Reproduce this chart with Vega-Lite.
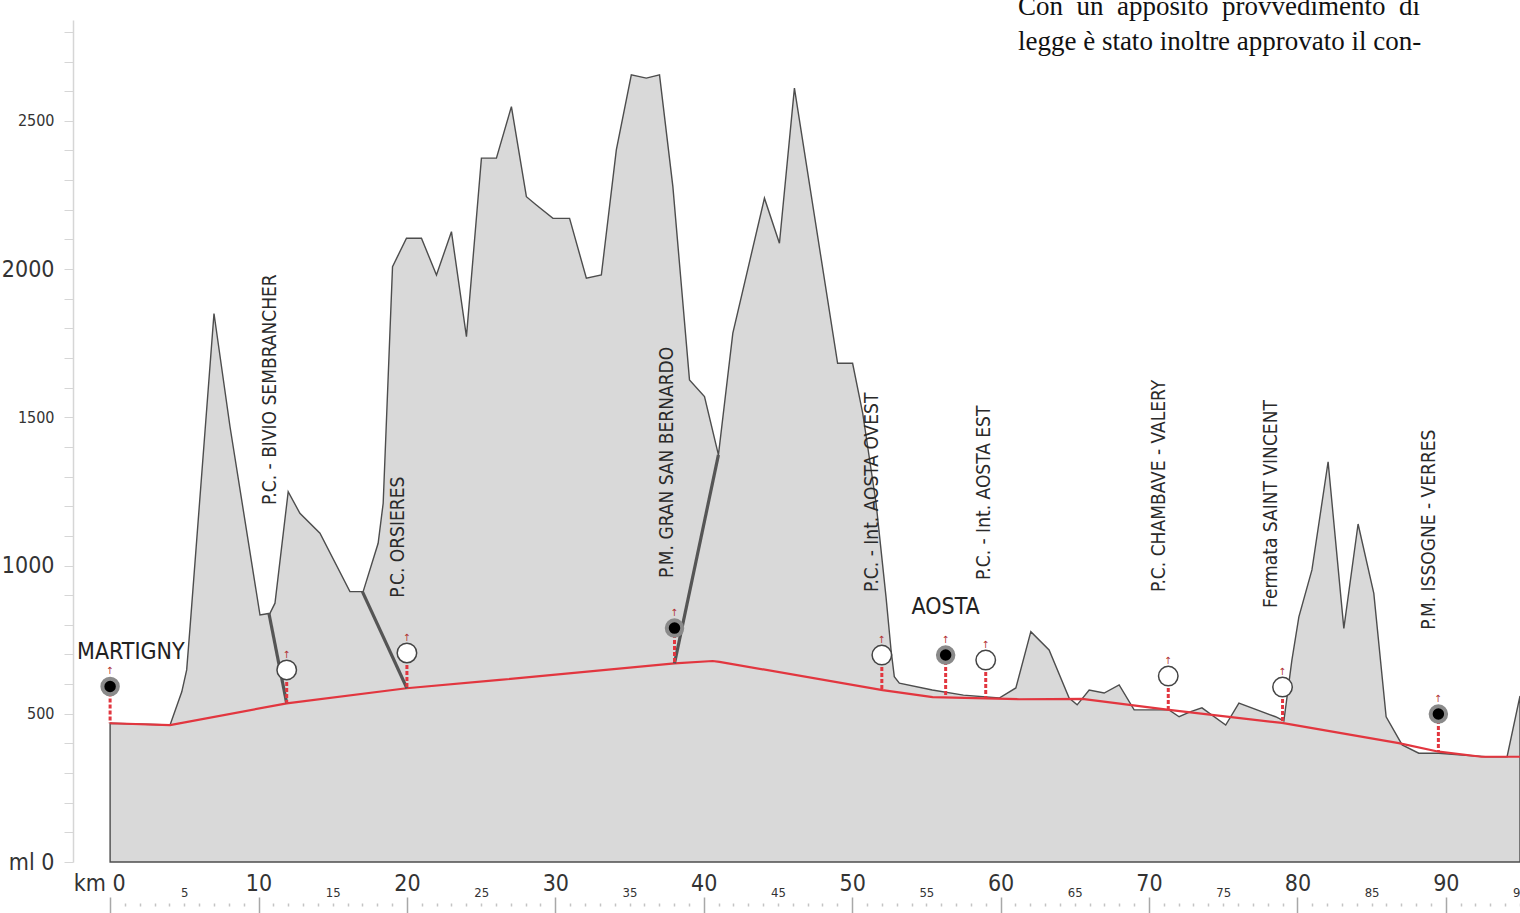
{
  "$schema": "https://vega.github.io/schema/vega-lite/v6.json",
  "width": 1447,
  "height": 842,
  "autosize": {"type": "none"},
  "padding": {"left": 73, "top": 20, "right": 0, "bottom": 51},
  "background": "white",
  "config": {"view": {"stroke": null}, "font": "Liberation Sans Narrow, DejaVu Sans Condensed, Roboto, sans-serif"},
  "datasets": {
    "terrain": [
      {"km": 0, "elev": 468}, {"km": 4.04, "elev": 462}, {"km": 4.83, "elev": 574}, {"km": 5.16, "elev": 648},
      {"km": 5.39, "elev": 794}, {"km": 7.0, "elev": 1850}, {"km": 8.08, "elev": 1468}, {"km": 10.1, "elev": 833},
      {"km": 10.77, "elev": 839}, {"km": 11.11, "elev": 873}, {"km": 12.0, "elev": 1249}, {"km": 12.79, "elev": 1176},
      {"km": 14.14, "elev": 1109}, {"km": 16.16, "elev": 912}, {"km": 17.05, "elev": 912}, {"km": 18.06, "elev": 1075},
      {"km": 18.4, "elev": 1210}, {"km": 19.03, "elev": 2008}, {"km": 19.97, "elev": 2104}, {"km": 20.98, "elev": 2104},
      {"km": 21.99, "elev": 1980}, {"km": 23.0, "elev": 2126}, {"km": 24.01, "elev": 1772}, {"km": 25.02, "elev": 2374},
      {"km": 26.03, "elev": 2374}, {"km": 27.04, "elev": 2548}, {"km": 28.05, "elev": 2244}, {"km": 28.72, "elev": 2216},
      {"km": 29.84, "elev": 2171}, {"km": 30.96, "elev": 2171}, {"km": 32.09, "elev": 1969}, {"km": 33.1, "elev": 1980},
      {"km": 34.11, "elev": 2402}, {"km": 35.12, "elev": 2655}, {"km": 36.13, "elev": 2644}, {"km": 37.02, "elev": 2655},
      {"km": 37.92, "elev": 2278}, {"km": 39.04, "elev": 1626}, {"km": 40.05, "elev": 1570}, {"km": 40.99, "elev": 1373},
      {"km": 41.96, "elev": 1784}, {"km": 44.09, "elev": 2239}, {"km": 45.1, "elev": 2087}, {"km": 46.11, "elev": 2610},
      {"km": 49.02, "elev": 1682}, {"km": 50.03, "elev": 1682}, {"km": 50.71, "elev": 1514}, {"km": 51.61, "elev": 1211},
      {"km": 52.28, "elev": 895}, {"km": 52.62, "elev": 715}, {"km": 52.84, "elev": 625}, {"km": 53.18, "elev": 603},
      {"km": 55.4, "elev": 580}, {"km": 57.5, "elev": 563}, {"km": 59.91, "elev": 553}, {"km": 61.03, "elev": 587},
      {"km": 62.04, "elev": 777}, {"km": 63.27, "elev": 715}, {"km": 64.62, "elev": 553}, {"km": 65.16, "elev": 530},
      {"km": 65.97, "elev": 580}, {"km": 66.98, "elev": 570}, {"km": 67.99, "elev": 597}, {"km": 69.0, "elev": 513},
      {"km": 71.35, "elev": 513}, {"km": 72.03, "elev": 490}, {"km": 72.81, "elev": 507}, {"km": 73.57, "elev": 520},
      {"km": 75.17, "elev": 462}, {"km": 76.06, "elev": 536}, {"km": 78.53, "elev": 490}, {"km": 79.09, "elev": 476},
      {"km": 79.63, "elev": 681}, {"km": 80.1, "elev": 827}, {"km": 80.98, "elev": 985}, {"km": 82.07, "elev": 1350},
      {"km": 83.13, "elev": 788}, {"km": 84.09, "elev": 1140}, {"km": 85.15, "elev": 906}, {"km": 85.98, "elev": 490},
      {"km": 87.06, "elev": 395}, {"km": 88.18, "elev": 367}, {"km": 89.53, "elev": 367}, {"km": 92.67, "elev": 355},
      {"km": 94.13, "elev": 355}, {"km": 95, "elev": 560}
    ],
    "rail": [
      {"km": 0, "elev": 468}, {"km": 4.04, "elev": 462}, {"km": 11.9, "elev": 535}, {"km": 19.97, "elev": 586},
      {"km": 26.25, "elev": 614}, {"km": 38.03, "elev": 670}, {"km": 40.6, "elev": 678}, {"km": 41.06, "elev": 675},
      {"km": 52.05, "elev": 580}, {"km": 55.42, "elev": 556}, {"km": 61.25, "elev": 549}, {"km": 65.5, "elev": 550},
      {"km": 71.35, "elev": 513}, {"km": 78.96, "elev": 469}, {"km": 86.83, "elev": 401}, {"km": 89.53, "elev": 372},
      {"km": 92.4, "elev": 355}, {"km": 95, "elev": 355}
    ],
    "adits": [
      {"id": "a1", "km": 10.7, "elev": 839}, {"id": "a1", "km": 11.9, "elev": 535},
      {"id": "a2", "km": 17.0, "elev": 912}, {"id": "a2", "km": 20.0, "elev": 586},
      {"id": "a3", "km": 38.03, "elev": 670}, {"id": "a3", "km": 40.99, "elev": 1373}
    ],
    "stations": [
      {"name": "Martigny", "km": 0, "elev": 592, "rail": 468, "type": "main"},
      {"name": "Bivio Sembrancher", "km": 11.9, "elev": 648, "rail": 535, "type": "minor"},
      {"name": "Orsieres", "km": 20.0, "elev": 705, "rail": 586, "type": "minor"},
      {"name": "Gran San Bernardo", "km": 38.03, "elev": 789, "rail": 670, "type": "main"},
      {"name": "Aosta Ovest", "km": 52.0, "elev": 698, "rail": 580, "type": "minor"},
      {"name": "Aosta", "km": 56.3, "elev": 698, "rail": 554, "type": "main"},
      {"name": "Aosta Est", "km": 59.0, "elev": 681, "rail": 551, "type": "minor"},
      {"name": "Chambave - Valery", "km": 71.3, "elev": 627, "rail": 513, "type": "minor"},
      {"name": "Saint Vincent", "km": 79.0, "elev": 590, "rail": 470, "type": "minor"},
      {"name": "Issogne - Verres", "km": 89.5, "elev": 499, "rail": 372, "type": "main"}
    ],
    "labels": [
      {"text": "P.C. - BIVIO SEMBRANCHER", "km": 10.77, "elev": 1204},
      {"text": "P.C. ORSIERES", "km": 19.39, "elev": 891},
      {"text": "P.M. GRAN SAN BERNARDO", "km": 37.5, "elev": 958},
      {"text": "P.C. - Int. AOSTA OVEST", "km": 51.36, "elev": 911},
      {"text": "P.C. - Int. AOSTA EST", "km": 58.9, "elev": 951},
      {"text": "P.C. CHAMBAVE - VALERY", "km": 70.68, "elev": 911},
      {"text": "Fermata SAINT VINCENT", "km": 78.2, "elev": 857},
      {"text": "P.M. ISSOGNE - VERRES", "km": 88.9, "elev": 783}
    ],
    "places": [
      {"text": "MARTIGNY", "km": 1.4, "elev": 708},
      {"text": "AOSTA", "km": 56.3, "elev": 860}
    ],
    "note": [
      {"text": "Con\u00a0 un\u00a0 apposito\u00a0 provvedimento\u00a0 di", "km": 61.17, "elev": 2857},
      {"text": "legge è stato inoltre approvato il con-", "km": 61.17, "elev": 2740}
    ]
  },
  "layer": [
    {
      "data": {"name": "terrain"},
      "mark": {"type": "area", "fill": "#d9d9d9", "stroke": "#4d4d4d", "strokeWidth": 1.4},
      "encoding": {
        "x": {
          "field": "km", "type": "quantitative",
          "scale": {"domain": [-2.5, 95], "nice": false, "zero": false},
          "axis": {
            "orient": "bottom", "title": null, "grid": false, "domain": false, "ticks": false,
            "values": [0, 5, 10, 15, 20, 25, 30, 35, 40, 45, 50, 55, 60, 65, 70, 75, 80, 85, 90, 95],
            "labelExpr": "datum.value == 0 ? 'km 0' : datum.label",
            "labelFontSize": {"condition": {"test": "datum.value % 10 === 0", "value": 23}, "value": 13},
            "labelPadding": {"condition": {"test": "datum.value % 10 === 0", "value": 10}, "value": 24},
            "labelAlign": {"condition": {"test": "datum.value === 0", "value": "right"}, "value": "center"},
            "labelOffset": {"condition": {"test": "datum.value === 0", "value": 15}, "value": 0},
            "labelBaseline": "top", "labelColor": "#333", "labelOverlap": false, "labelBound": false, "labelFlush": false
          }
        },
        "y": {
          "field": "elev", "type": "quantitative",
          "scale": {"domain": [0, 2840], "nice": false, "zero": false},
          "axis": {
            "title": null, "grid": false, "format": "d",
            "values": [0, 100, 200, 300, 400, 500, 600, 700, 800, 900, 1000, 1100, 1200, 1300, 1400, 1500, 1600, 1700, 1800, 1900, 2000, 2100, 2200, 2300, 2400, 2500, 2600, 2700, 2800],
            "labelExpr": "datum.value == 0 ? 'ml 0' : (datum.value % 500 == 0 ? datum.label : '')",
            "labelFontSize": {"condition": {"test": "datum.value % 1000 === 0", "value": 23}, "value": 16},
            "labelColor": "#333", "labelPadding": 10, "labelOverlap": false, "labelBound": false, "labelFlush": false,
            "tickSize": 9, "tickColor": "#d6d6d6", "domainColor": "#d6d6d6", "domainWidth": 1.5
          }
        }
      }
    },
    {
      "data": {"name": "rail"},
      "mark": {"type": "line", "stroke": "#e2363f", "strokeWidth": 2.2},
      "encoding": {
        "x": {
          "field": "km", "type": "quantitative",
          "scale": {"domain": [-2.5, 95], "nice": false, "zero": false},
          "axis": {
            "orient": "bottom", "offset": 35, "title": null, "grid": false, "domain": false, "labels": false,
            "values": [0, 1, 2, 3, 4, 5, 6, 7, 8, 9, 10, 11, 12, 13, 14, 15, 16, 17, 18, 19, 20, 21, 22, 23, 24, 25, 26, 27, 28, 29, 30, 31, 32, 33, 34, 35, 36, 37, 38, 39, 40, 41, 42, 43, 44, 45, 46, 47, 48, 49, 50, 51, 52, 53, 54, 55, 56, 57, 58, 59, 60, 61, 62, 63, 64, 65, 66, 67, 68, 69, 70, 71, 72, 73, 74, 75, 76, 77, 78, 79, 80, 81, 82, 83, 84, 85, 86, 87, 88, 89, 90, 91, 92, 93, 94, 95],
            "tickSize": 20, "tickWidth": 1.5,
            "tickColor": {"condition": {"test": "datum.value % 10 === 0", "value": "#a8a8a8"}, "value": "#c4c4c4"},
            "tickDash": {"condition": {"test": "datum.value % 10 === 0", "value": [1, 0]}, "value": [0, 6, 3, 40]}
          }
        },
        "y": {"field": "elev", "type": "quantitative", "scale": {"domain": [0, 2840], "nice": false, "zero": false}, "axis": null}
      }
    },
    {
      "data": {"name": "adits"},
      "mark": {"type": "line", "stroke": "#555555", "strokeWidth": 3.2},
      "encoding": {
        "x": {"field": "km", "type": "quantitative", "scale": {"domain": [-2.5, 95], "nice": false, "zero": false}, "axis": null},
        "y": {"field": "elev", "type": "quantitative", "scale": {"domain": [0, 2840], "nice": false, "zero": false}, "axis": null},
        "detail": {"field": "id"}
      }
    },
    {
      "data": {"name": "stations"},
      "mark": {"type": "rule", "stroke": "#e2363f", "strokeWidth": 3, "strokeDash": [4, 2]},
      "encoding": {
        "x": {"field": "km", "type": "quantitative", "scale": {"domain": [-2.5, 95], "nice": false, "zero": false}, "axis": null},
        "y": {"field": "elev", "type": "quantitative", "scale": {"domain": [0, 2840], "nice": false, "zero": false}, "axis": null},
        "y2": {"field": "rail"}
      }
    },
    {
      "data": {"name": "stations"},
      "mark": {"type": "text", "text": "↑", "fontSize": 10, "color": "#b03030", "baseline": "bottom", "dy": -10},
      "encoding": {
        "x": {"field": "km", "type": "quantitative", "scale": {"domain": [-2.5, 95], "nice": false, "zero": false}, "axis": null},
        "y": {"field": "elev", "type": "quantitative", "scale": {"domain": [0, 2840], "nice": false, "zero": false}, "axis": null}
      }
    },
    {
      "data": {"name": "stations"},
      "transform": [{"filter": "datum.type === 'minor'"}],
      "mark": {"type": "point", "shape": "circle", "filled": true, "fill": "white", "stroke": "#444444", "strokeWidth": 1.5, "size": 380, "opacity": 1},
      "encoding": {
        "x": {"field": "km", "type": "quantitative", "scale": {"domain": [-2.5, 95], "nice": false, "zero": false}, "axis": null},
        "y": {"field": "elev", "type": "quantitative", "scale": {"domain": [0, 2840], "nice": false, "zero": false}, "axis": null}
      }
    },
    {
      "data": {"name": "stations"},
      "transform": [{"filter": "datum.type === 'main'"}],
      "mark": {"type": "point", "shape": "circle", "filled": true, "fill": "black", "stroke": "#8a8a8a", "strokeWidth": 4, "size": 240, "opacity": 1},
      "encoding": {
        "x": {"field": "km", "type": "quantitative", "scale": {"domain": [-2.5, 95], "nice": false, "zero": false}, "axis": null},
        "y": {"field": "elev", "type": "quantitative", "scale": {"domain": [0, 2840], "nice": false, "zero": false}, "axis": null}
      }
    },
    {
      "data": {"name": "labels"},
      "mark": {"type": "text", "angle": 270, "align": "left", "baseline": "middle", "fontSize": 19, "color": "#2a2a2a"},
      "encoding": {
        "x": {"field": "km", "type": "quantitative", "scale": {"domain": [-2.5, 95], "nice": false, "zero": false}, "axis": null},
        "y": {"field": "elev", "type": "quantitative", "scale": {"domain": [0, 2840], "nice": false, "zero": false}, "axis": null},
        "text": {"field": "text"}
      }
    },
    {
      "data": {"name": "places"},
      "mark": {"type": "text", "align": "center", "baseline": "middle", "fontSize": 23, "color": "#222222"},
      "encoding": {
        "x": {"field": "km", "type": "quantitative", "scale": {"domain": [-2.5, 95], "nice": false, "zero": false}, "axis": null},
        "y": {"field": "elev", "type": "quantitative", "scale": {"domain": [0, 2840], "nice": false, "zero": false}, "axis": null},
        "text": {"field": "text"}
      }
    },
    {
      "data": {"name": "note"},
      "mark": {"type": "text", "align": "left", "baseline": "alphabetic", "fontSize": 27, "font": "Liberation Serif", "color": "#111111"},
      "encoding": {
        "x": {"field": "km", "type": "quantitative", "scale": {"domain": [-2.5, 95], "nice": false, "zero": false}, "axis": null},
        "y": {"field": "elev", "type": "quantitative", "scale": {"domain": [0, 2840], "nice": false, "zero": false}, "axis": null},
        "text": {"field": "text"}
      }
    }
  ],
  "resolve": {"axis": {"x": "independent", "y": "independent"}}
}
